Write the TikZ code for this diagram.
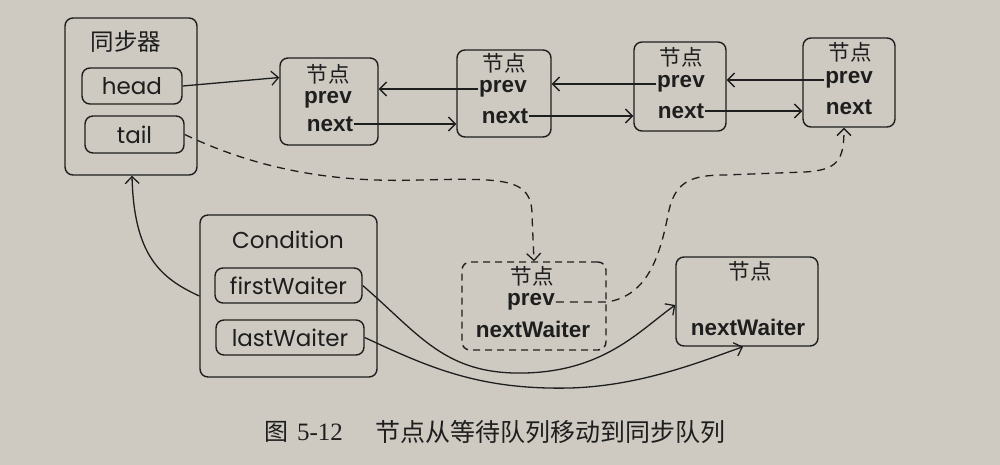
\documentclass[tikz,border=0pt]{standalone}
\usepackage{fontspec}
\newfontfamily\geo{Poppins}
\newfontfamily\ari{Liberation Sans}
\newfontfamily\cjk{Noto Sans CJK SC}
\newfontfamily\ser{Liberation Serif}
\usetikzlibrary{arrows.meta}
\definecolor{bg}{RGB}{206,202,194}
\definecolor{ink}{RGB}{30,30,30}
\begin{document}
\begin{tikzpicture}[x=1pt,y=-1pt,
  box/.style={draw=ink, line width=1.4pt, rounded corners=8pt, inner sep=0pt},
  dbox/.style={box, dashed, dash pattern=on 7pt off 5pt},
  geotxt/.style={text=ink, font=\geo\fontsize{23}{23}\selectfont, inner sep=1pt},
  cjktxt/.style={text=ink, font=\cjk\fontsize{21.5}{21.5}\selectfont, inner sep=1pt},
  fldtxt/.style={text=ink, font=\ari\bfseries\fontsize{22.5}{22.5}\selectfont, inner sep=1pt},
  arr/.style={draw=ink, line width=1.3pt, -{Straight Barb[length=7pt,width=14pt,line width=1.3pt]}},
  darr/.style={arr, dash pattern=on 8pt off 6pt}]
\fill[bg] (0,0) rectangle (1000,465);
\useasboundingbox (0,0) rectangle (1000,465);

% synchronizer
\node[box, minimum width=132pt, minimum height=157pt] (sync) at (131,96.5) {};
\node[cjktxt, font=\cjk\fontsize{23.5}{23.5}\selectfont] (synct) at (126,42) {同步器};
\node[box, geotxt, minimum width=100pt, minimum height=36pt] (head) at (132,86) {head};
\node[box, geotxt, minimum width=99pt, minimum height=37pt] (tail) at (134.5,134.5) {tail};

% sync queue nodes
\node[box, minimum width=98pt, minimum height=87pt] (n1) at (329,101.5) {};
\node[cjktxt] (n1t) at (328,74) {节点};
\node[fldtxt] (n1p) at (328,100) {prev};
\node[fldtxt] (n1n) at (330,124) {next};

\node[box, minimum width=94pt, minimum height=87pt] (n2) at (504,93.5) {};
\node[cjktxt] (n2t) at (504,63) {节点};
\node[fldtxt] (n2p) at (503,89) {prev};
\node[fldtxt] (n2n) at (505,116) {next};

\node[box, minimum width=92pt, minimum height=89pt] (n3) at (680,86.5) {};
\node[cjktxt] (n3t) at (681,57) {节点};
\node[fldtxt] (n3p) at (681,84) {prev};
\node[fldtxt] (n3n) at (681,111) {next};

\node[box, minimum width=92pt, minimum height=89pt] (n4) at (849,82.5) {};
\node[cjktxt] (n4t) at (850,52) {节点};
\node[fldtxt] (n4p) at (849,80) {prev};
\node[fldtxt] (n4n) at (849,107) {next};

% condition
\node[box, minimum width=177pt, minimum height=162pt] (cond) at (288.5,296) {};
\node[geotxt] (condt) at (288,240) {Condition};
\node[box, geotxt, minimum width=147pt, minimum height=35pt] (fw) at (288.5,285.5) {firstWaiter};
\node[box, geotxt, minimum width=148pt, minimum height=35pt] (lw) at (290,337.5) {lastWaiter};

% moving node (dashed)
\node[dbox, minimum width=144pt, minimum height=88pt] (dn) at (534,306) {};
\node[cjktxt] (dnt) at (532,276) {节点};
\node[fldtxt] (dnp) at (531,302) {prev};
\node[fldtxt] (dnw) at (533,329) {nextWaiter};

% waiting node
\node[box, minimum width=142pt, minimum height=89pt] (rn) at (747,301.5) {};
\node[cjktxt] (rnt) at (750,271) {节点};
\node[fldtxt] (rnw) at (748,327) {nextWaiter};

% caption
\node[text=ink, font=\cjk\fontsize{24}{24}\selectfont, inner sep=0pt] (capa) at (276,432) {图};
\node[text=ink, font=\ser\fontsize{25}{25}\selectfont, inner sep=0pt] (capb) at (320,432) {5-12};
\node[text=ink, font=\cjk\fontsize{25}{25}\selectfont, inner sep=0pt] (capc) at (550,432) {节点从等待队列移动到同步队列};

% sync queue links
\draw[arr] (head.east) -- ([yshift=24pt]n1.west);
\draw[arr] (n1n.east) -- (n1n.east -| n2.west);
\draw[arr] (n2p.west) -- (n2p.west -| n1.east);
\draw[arr] (n2n.east) -- (n2n.east -| n3.west);
\draw[arr] (n3p.west) -- (n3p.west -| n2.east);
\draw[arr] (n3n.east) -- (n3n.east -| n4.west);
\draw[arr] (n4p.west) -- (n4p.west -| n3.east);

% dashed moves
\draw[darr] (tail.east) .. controls (255,168) and (330,183) .. (420,180)
  .. controls (505,178) and (532,178) .. (532,215) -- (dn.north);
\draw[darr] (dnp.east) -- ([yshift=4pt]dn.east)
  .. controls (648,296) and (660,255) .. (668,215)
  .. controls (674,182) and (690,175) .. (725,175) -- (805,172)
  .. controls (838,170) and (844,160) .. ([xshift=-5pt]n4.south);

% condition links
\draw[arr] (cond.west) .. controls (160,278) and (134,255) .. ([xshift=1pt]sync.south);
\draw[arr] (fw.east) .. controls (420,335) and (445,375) .. (525,373)
  .. controls (605,371) and (640,330) .. ([yshift=-3.5pt]rn.west);
\draw[arr] (lw.east) .. controls (430,368) and (480,390) .. (570,388)
  .. controls (640,386) and (700,362) .. ([xshift=-4pt]rn.south);
\end{tikzpicture}
\end{document}
